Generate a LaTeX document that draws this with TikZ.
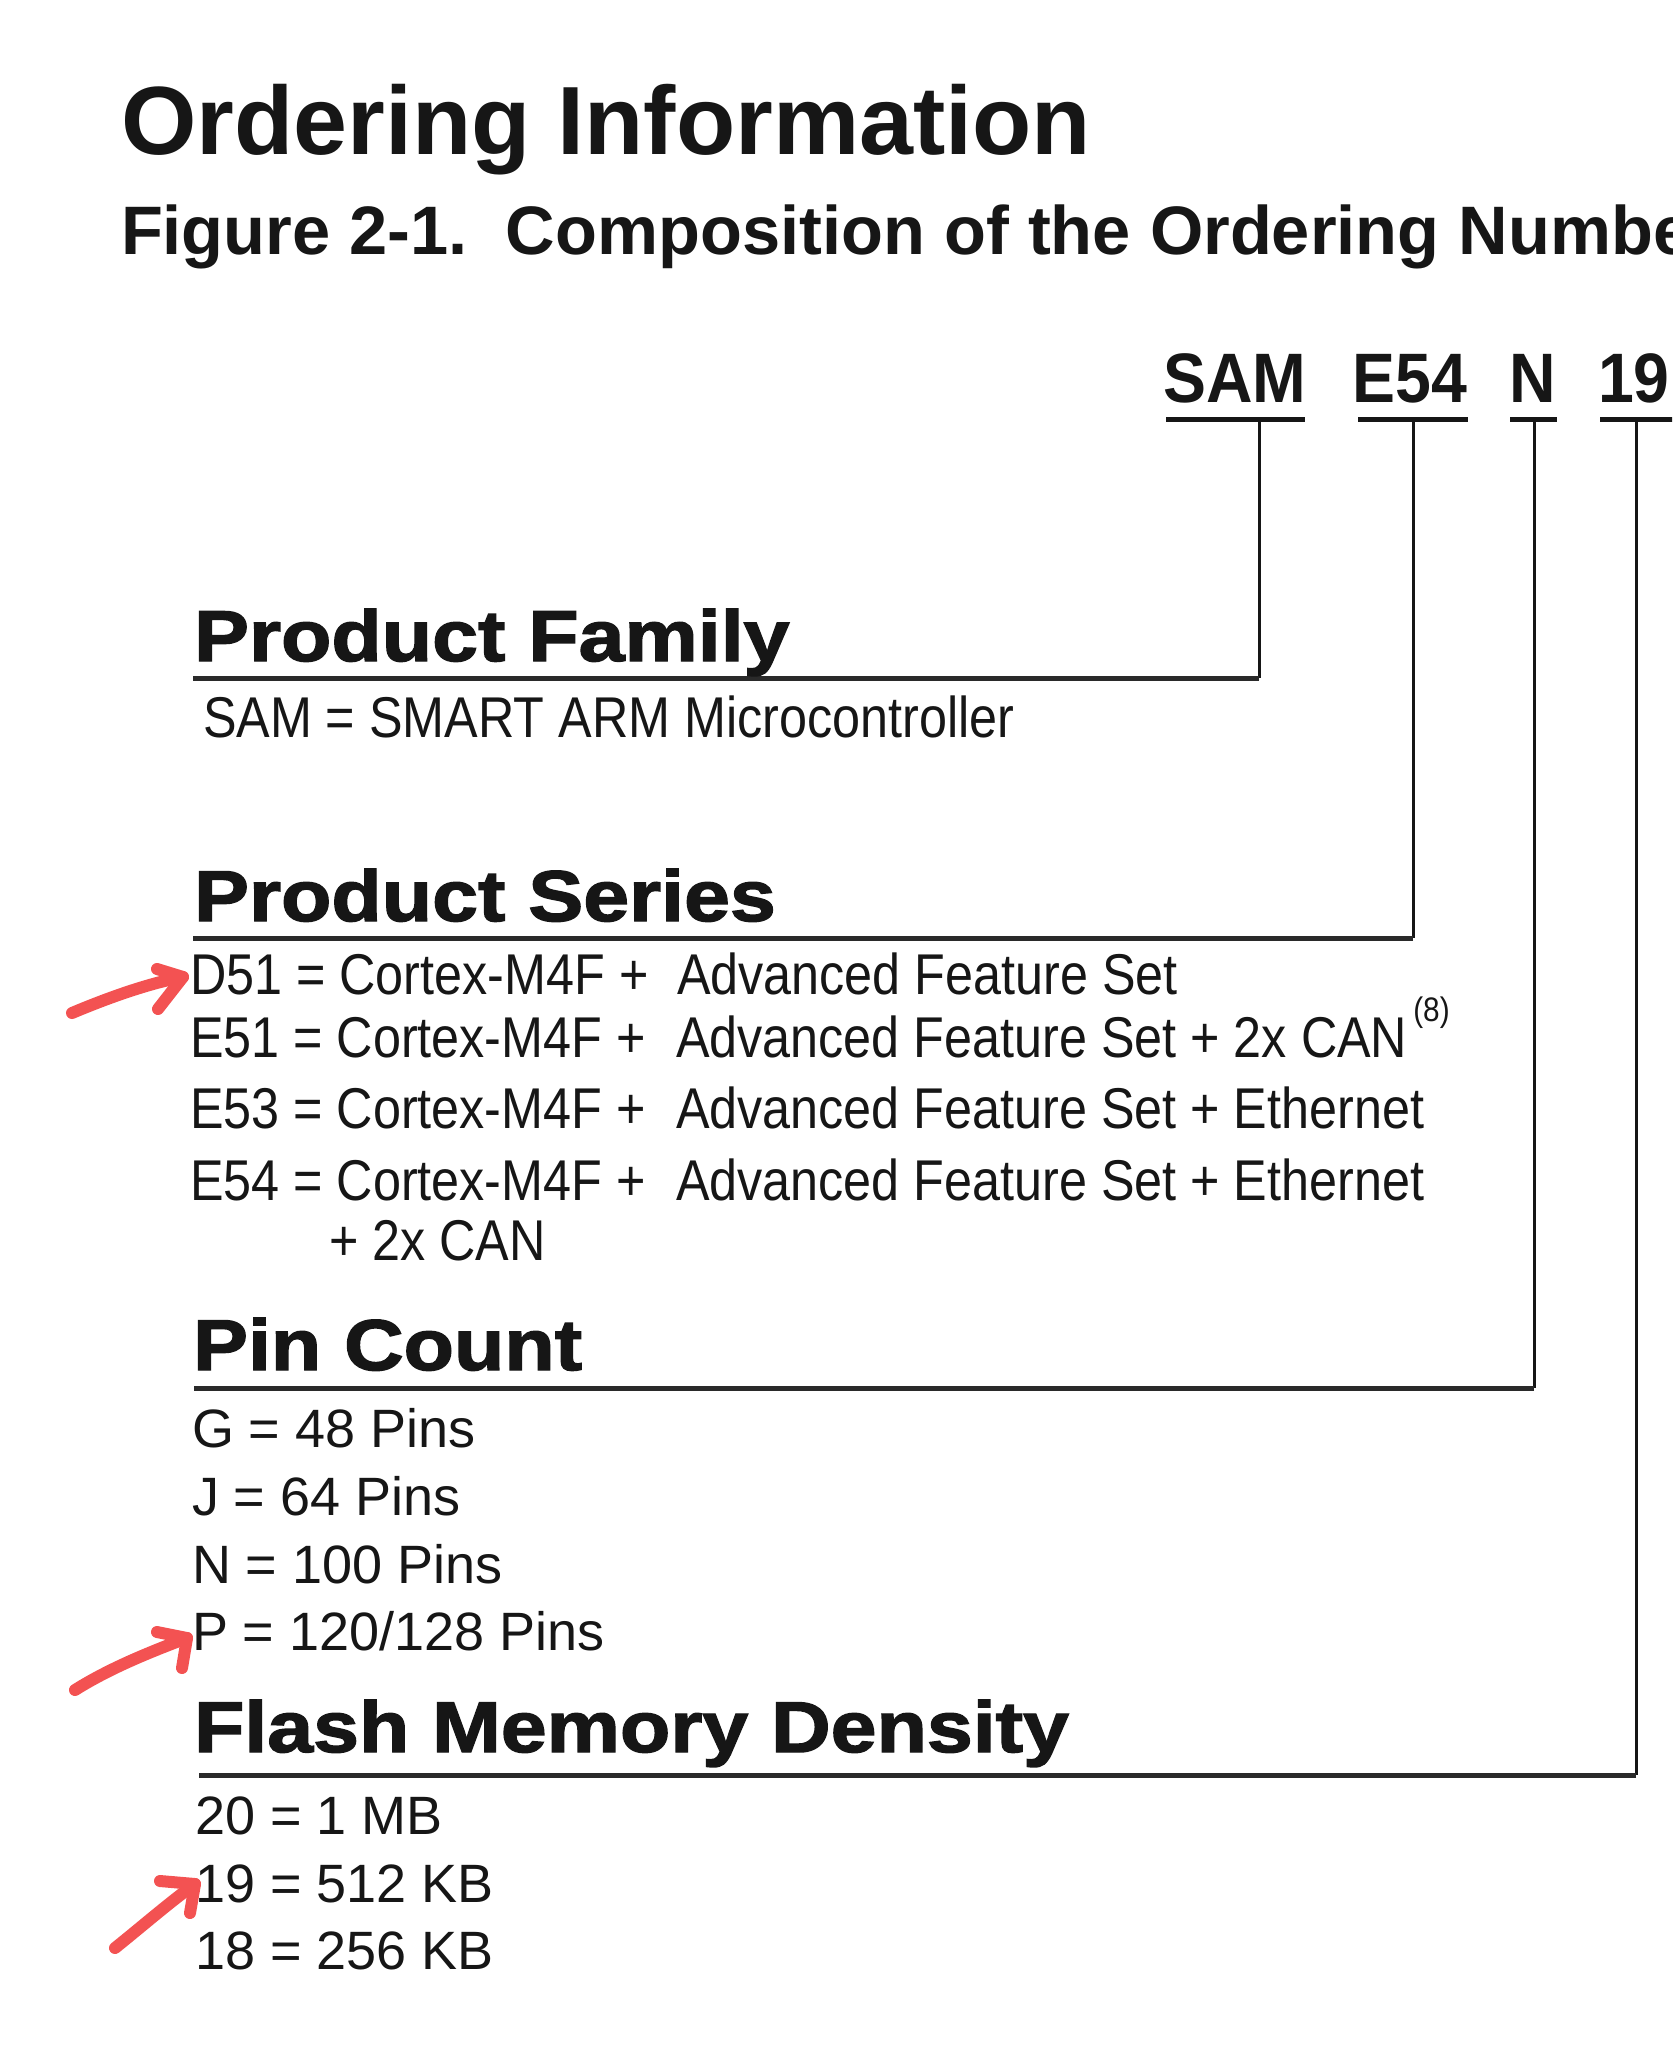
\documentclass[tikz,border=0pt]{standalone}
\usepackage{fontspec}
\setmainfont{Liberation Sans}
\newfontfamily\titlefont{Liberation Sans}
\newfontfamily\headfont[FakeStretch=1.145,FakeBold=2]{Liberation Sans}
\newfontfamily\partfont[FakeStretch=0.92]{Liberation Sans}
\newfontfamily\bodyfont[FakeStretch=0.875]{Liberation Sans}
\newfontfamily\listfont{Liberation Sans}
\definecolor{ink}{HTML}{161616}
\definecolor{rulecol}{HTML}{2A2A2A}
\definecolor{pen}{RGB}{243,82,82}
\begin{document}
\begin{tikzpicture}[x=0.5pt,y=-0.5pt,
  txt/.style={anchor=base west,inner sep=0pt,outer sep=0pt,text=ink},
  ptxt/.style={anchor=base,inner sep=0pt,outer sep=0pt,text=ink,font=\partfont\bfseries\fontsize{35pt}{40pt}\selectfont},
  ttl/.style={txt,font=\titlefont\bfseries\fontsize{48.5pt}{56pt}\selectfont},
  subttl/.style={txt,font=\titlefont\bfseries\fontsize{34.3pt}{40pt}\selectfont},
  head/.style={txt,font=\headfont\bfseries\fontsize{36pt}{42pt}\selectfont},
  body/.style={txt,font=\bodyfont\fontsize{28.75pt}{34pt}\selectfont},
  item/.style={txt,font=\listfont\fontsize{27pt}{32pt}\selectfont},
  uline/.style={draw=ink,line width=2.5pt},
  stem/.style={draw=ink,line width=1.5pt},
  hrule/.style={draw=rulecol,line width=2.5pt},
  pen/.style={draw=pen,line width=6pt,line cap=round,line join=round}]
\useasboundingbox (0,0) rectangle (1672,2048);
\clip (0,0) rectangle (1672,2048);
\fill[white] (0,0) rectangle (1672,2048);

% titles
\node[ttl] (title) at (121,155) {Ordering Information};
\node[subttl] (subtitle) at (121,255) {Figure 2-1.\ \ Composition of the Ordering Number};

% part number
\node[ptxt] (sam) at (1235,403) {SAM};
\node[ptxt] (e54) at (1410,403) {E54};
\node[ptxt] (nn) at (1533,403) {N};
\node[ptxt,anchor=base west] (nineteen) at (1598,403) {19};

\coordinate (samUa) at (1166,420); \coordinate (samUb) at (1305,420);
\coordinate (e54Ua) at (1358,420); \coordinate (e54Ub) at (1468,420);
\coordinate (nUa) at (1510,420); \coordinate (nUb) at (1557,420);
\coordinate (nineUa) at (1600,420); \coordinate (nineUb) at (1680,420);
\draw[uline] (samUa) -- (samUb);
\draw[uline] (e54Ua) -- (e54Ub);
\draw[uline] (nUa) -- (nUb);
\draw[uline] (nineUa) -- (nineUb);

\coordinate (samT) at (1259,420);
\coordinate (e54T) at (1413,420);
\coordinate (nT) at (1534,420);
\coordinate (nineT) at (1636,420);

\coordinate (pfC) at (1259,678); \coordinate (pfL) at (193,678);
\coordinate (psC) at (1413,938); \coordinate (psL) at (193,938);
\coordinate (pcC) at (1534,1388); \coordinate (pcL) at (194,1388);
\coordinate (fmC) at (1636,1775); \coordinate (fmL) at (199,1775);

\draw[stem] (samT) -- (pfC);
\draw[stem] (e54T) -- (psC);
\draw[stem] (nT) -- (pcC);
\draw[stem] (nineT) -- (fmC);
\draw[hrule] (pfC) -- (pfL);
\draw[hrule] (psC) -- (psL);
\draw[hrule] (pcC) -- (pcL);
\draw[hrule] (fmC) -- (fmL);

% Product Family
\node[head] (hfam) at (194,661) {Product Family};
\node[body] (fam1) at (203,737) {SAM = SMART ARM Microcontroller};

% Product Series
\node[head] (hser) at (194,921) {Product Series};
\node[body] (d51a) at (190,994) {D51 = Cortex-M4F +};
\node[body] (d51b) at (677,994) {Advanced Feature Set};
\node[body] (e51a) at (190,1057) {E51 = Cortex-M4F +};
\node[body] (e51b) at (676,1057) {Advanced Feature Set + 2x CAN\kern3pt\raisebox{18pt}{\fontsize{17pt}{20pt}\selectfont(8)}};
\node[body] (e53a) at (190,1128) {E53 = Cortex-M4F +};
\node[body] (e53b) at (676,1128) {Advanced Feature Set + Ethernet};
\node[body] (e54a) at (190,1200) {E54 = Cortex-M4F +};
\node[body] (e54b) at (676,1200) {Advanced Feature Set + Ethernet};
\node[body] (e54c) at (329,1260) {+ 2x CAN};

% Pin Count
\node[head] (hpin) at (193,1370) {Pin Count};
\node[item] (pg) at (192,1447) {G = 48 Pins};
\node[item] (pj) at (192,1515) {J = 64 Pins};
\node[item] (pn) at (192,1583) {N = 100 Pins};
\node[item] (pp) at (192,1650) {P = 120/128 Pins};

% Flash Memory Density
\node[head] (hfl) at (194,1752) {Flash Memory Density};
\node[item] (f20) at (195,1834) {20 = 1 MB};
\node[item] (f19) at (195,1902) {19 = 512 KB};
\node[item] (f18) at (195,1969) {18 = 256 KB};

% red hand-drawn arrows
\coordinate (a1s) at (72,1013); \coordinate (a1t) at (183,977);
\coordinate (a1u) at (157,969); \coordinate (a1d) at (158,1009);
\draw[pen] (a1s) .. controls (110,997) and (150,983) .. (a1t);
\draw[pen] (a1u) -- (a1t) -- (a1d);

\coordinate (a2s) at (75,1690); \coordinate (a2t) at (187,1638);
\coordinate (a2u) at (157,1632); \coordinate (a2d) at (182,1668);
\draw[pen] (a2s) .. controls (110,1668) and (150,1652) .. (a2t);
\draw[pen] (a2u) -- (a2t) -- (a2d);

\coordinate (a3s) at (115,1948); \coordinate (a3t) at (195,1884);
\coordinate (a3u) at (160,1881); \coordinate (a3d) at (190,1913);
\draw[pen] (a3s) .. controls (140,1928) and (170,1902) .. (a3t);
\draw[pen] (a3u) -- (a3t) -- (a3d);
\end{tikzpicture}
\end{document}
